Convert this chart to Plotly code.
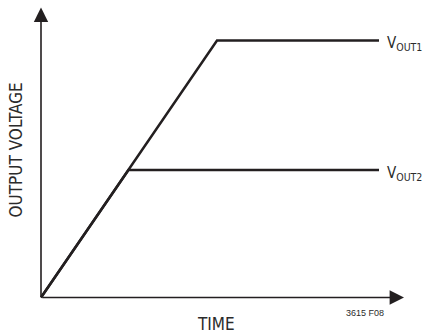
import plotly.graph_objects as go

# curve data (arbitrary units, origin at 0,0)
time1 = [0, 176, 338]
vout1 = [0, 257, 257]
time2 = [0, 87.5, 338]
vout2 = [0, 127.5, 127.5]

labels = ["V<sub>OUT1</sub>", "V<sub>OUT2</sub>"]

ink = "#231f20"
txt = "#2b2b2b"
narrow = "Liberation Sans Narrow, DejaVu Sans Condensed, Arial Narrow, sans-serif"

fig = go.Figure()

fig.add_trace(go.Scatter(x=time1, y=vout1, mode="lines",
                         line=dict(color=ink, width=2.5), hoverinfo="skip"))
fig.add_trace(go.Scatter(x=time2, y=vout2, mode="lines",
                         line=dict(color=ink, width=2.5), hoverinfo="skip"))

annotations = []

# axis arrows
annotations.append(dict(x=0, y=290, ax=0, ay=0, xref="x", yref="y", axref="x", ayref="y",
                        text="", showarrow=True, arrowhead=2, arrowsize=1.8,
                        arrowwidth=1.6, arrowcolor=ink))
annotations.append(dict(x=363, y=0, ax=0, ay=0, xref="x", yref="y", axref="x", ayref="y",
                        text="", showarrow=True, arrowhead=2, arrowsize=1.8,
                        arrowwidth=1.6, arrowcolor=ink))

# curve labels
for t, v, lab in [(time1[-1], vout1[-1], labels[0]), (time2[-1], vout2[-1], labels[1])]:
    annotations.append(dict(x=t + 6, y=v - 3, xref="x", yref="y", text=lab,
                            showarrow=False, xanchor="left", yanchor="middle",
                            font=dict(family=narrow, size=15, color=txt)))

annotations.append(dict(x=175, y=-26, xref="x", yref="y", text="TIME", showarrow=False,
                        xanchor="center", yanchor="middle",
                        font=dict(family=narrow, size=17, color=txt)))
annotations.append(dict(x=-26, y=147, xref="x", yref="y", text="OUTPUT VOLTAGE",
                        showarrow=False, textangle=-90, xanchor="center", yanchor="middle",
                        font=dict(family=narrow, size=17, color=txt)))
annotations.append(dict(x=324, y=-15, xref="x", yref="y", text="3615 F08", showarrow=False,
                        xanchor="center", yanchor="middle",
                        font=dict(family="Liberation Sans, Arial, sans-serif", size=9, color=txt)))

fig.update_layout(
    width=427, height=336,
    margin=dict(l=0, r=0, t=0, b=0),
    paper_bgcolor="white", plot_bgcolor="white",
    showlegend=False,
    xaxis=dict(range=[-41, 386], visible=False, fixedrange=True),
    yaxis=dict(range=[-38.5, 297.5], visible=False, fixedrange=True),
    annotations=annotations,
)

# drop the page's default body margin so the figure sits at the window corner
fig.write_html("out.html", config={"displayModeBar": False},
               post_script="document.body.style.margin='0px';")
